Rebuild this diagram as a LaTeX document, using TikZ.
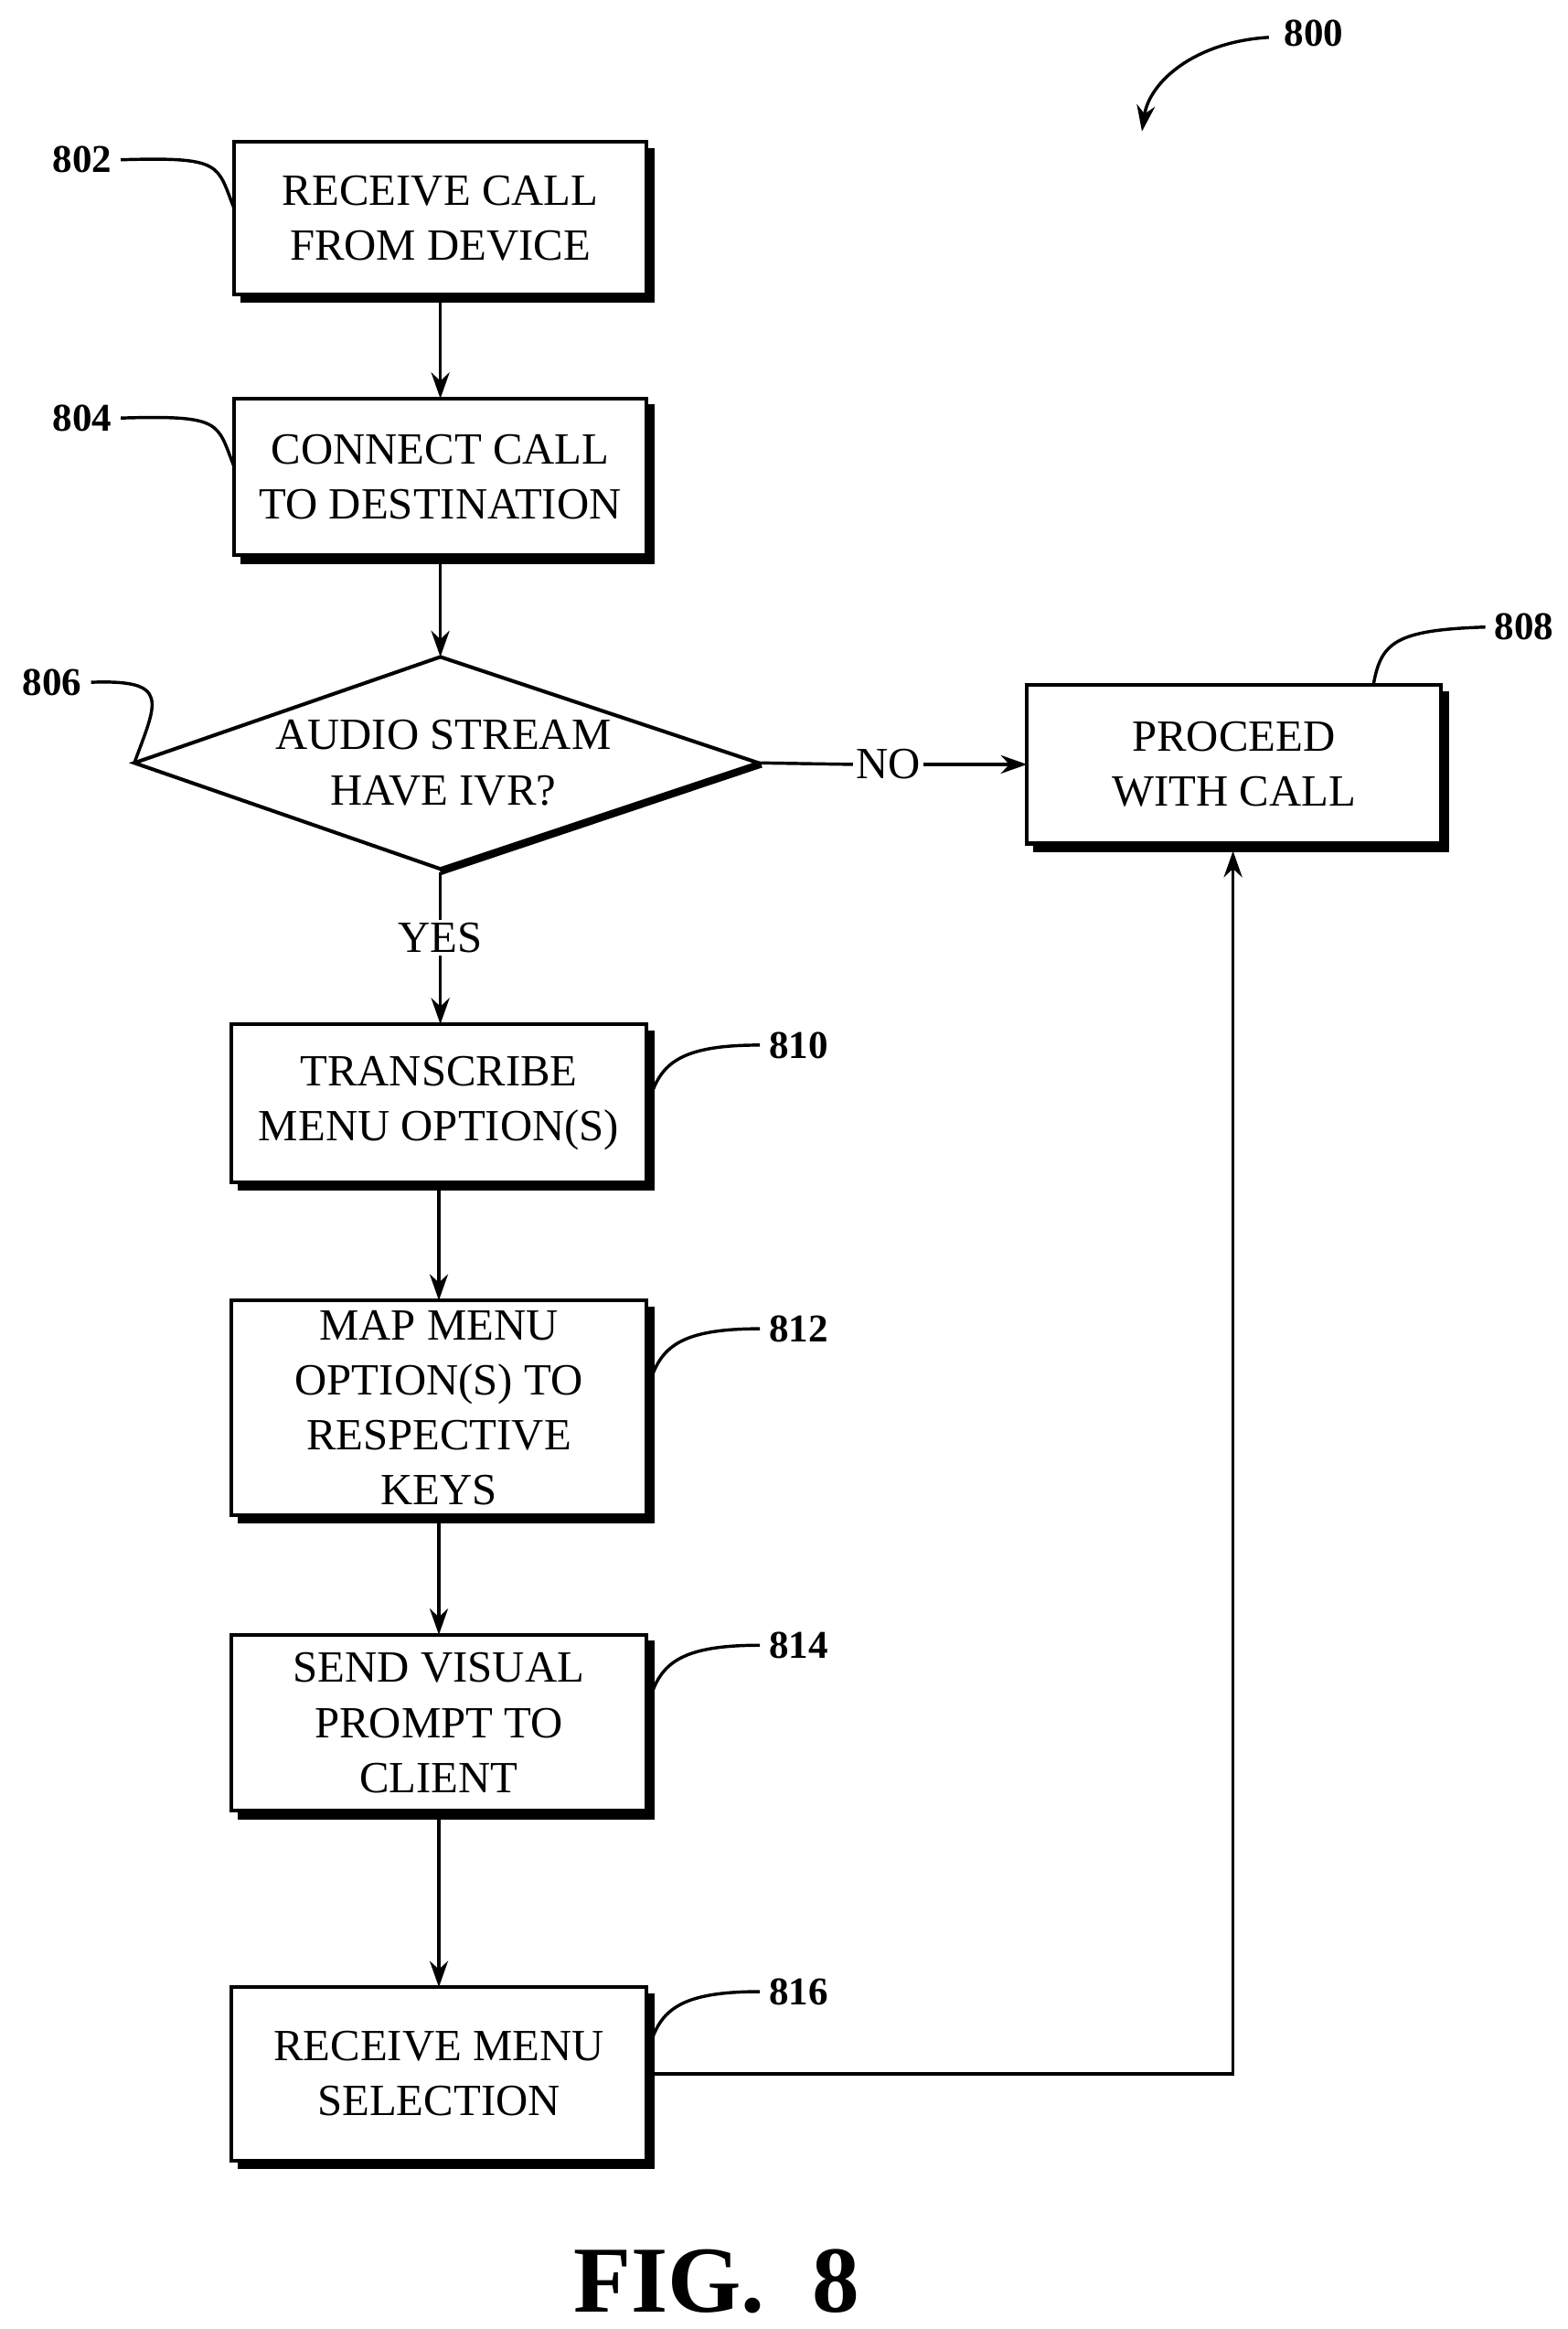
\documentclass[tikz,border=0pt]{standalone}
\usepackage{fontspec}
\setmainfont{Liberation Serif}
\usetikzlibrary{shapes.geometric,arrows.meta}
\begin{document}
\begin{tikzpicture}[x=0.02cm,y=-0.02cm,
  shadow/.style={line width=3pt},
  arr/.style={-{Stealth[length=10pt,width=7pt]},line width=1.2pt},
  lbl/.style={font=\bfseries\fontsize{15}{18}\selectfont},
  lead/.style={line width=1.2pt}]
\useasboundingbox (0,0) rectangle (1050,1560);
\newcommand{\mybox}[6]{% name x1 y1 x2 y2 text
  \draw[line width=1.4pt] (#2,#3) rectangle (#4,#5);
  \draw[shadow] (#4+3,#3+4) -- (#4+3,#5+3) -- (#2+4,#5+3);
  \node[align=center,font=\fontsize{17}{21}\selectfont] (#1) at ({(#2+#4)/2},{(#3+#5)/2}) {#6};
  \coordinate (#1-n) at ({(#2+#4)/2},#3);
  \coordinate (#1-s) at ({(#2+#4)/2},#5+5);
  \coordinate (#1-w) at (#2,{(#3+#5)/2});
  \coordinate (#1-e) at (#4,{(#3+#5)/2});}
\mybox{b802}{157}{95}{433}{197}{RECEIVE CALL\\FROM DEVICE}
\mybox{b804}{157}{267}{433}{372}{CONNECT CALL\\TO DESTINATION}
\mybox{b808}{688}{459}{965}{565}{PROCEED\\WITH CALL}
\mybox{b810}{155}{686}{433}{792}{TRANSCRIBE\\MENU OPTION(S)}
\mybox{b812}{155}{871}{433}{1015}{MAP MENU\\OPTION(S) TO\\RESPECTIVE\\KEYS}
\mybox{b814}{155}{1095}{433}{1213}{SEND VISUAL\\PROMPT TO\\CLIENT}
\mybox{b816}{155}{1331}{433}{1447}{RECEIVE MENU\\SELECTION}
% diamond
\draw[line width=1.4pt] (90,511) -- (295,440) -- (508,511) -- (295,582) -- cycle;
\draw[line width=2.5pt] (295,584) -- (510,512);
\node[align=center,font=\fontsize{17}{21}\selectfont] (d806) at (297,511) {AUDIO STREAM\\HAVE IVR?};
\coordinate (d-n) at (295,440); \coordinate (d-s) at (295,584);
\coordinate (d-e) at (510,511); \coordinate (d-w) at (90,511);
% arrows
\draw[arr] (b802-s) -- (b804-n);
\draw[arr] (b804-s) -- (d-n);
\node[font=\fontsize{17}{21}\selectfont,fill=white,inner sep=1pt] (yes) at (295,628) {YES};
\draw[line width=1.2pt] (d-s) -- (yes.north);
\draw[arr] (yes.south) -- (yes.south |- b810-n);
\node[font=\fontsize{17}{21}\selectfont,fill=white,inner sep=1pt] (no) at (595,512) {NO};
\draw[line width=1.2pt] (d-e) -- (no.west);
\draw[arr] (no.east) -- (no.east |- b808-w) -- (b808-w);
\draw[arr] (b810-s) -- (b812-n);
\draw[arr] (b812-s) -- (b814-n);
\draw[arr] (b814-s) -- (b816-n);
\coordinate (c1) at (826,1389);
\draw[arr] (b816-e) -- (c1) -- (826,570);
% labels
\node[lbl] (l800) at (880,22) {800};
\draw[arr] (850,25) .. controls (800,28) and (770,55) .. (765,88);
\node[lbl] (l802) at (55,107) {802};
\draw[lead] (l802.east) .. controls (150,105) and (145,110) .. (157,140);
\node[lbl] (l804) at (55,280) {804};
\draw[lead] (l804.east) .. controls (150,278) and (145,283) .. (157,313);
\node[lbl] (l806) at (35,457) {806};
\draw[lead] (l806.east) .. controls (115,455) and (105,470) .. (d-w);
\node[lbl] (l808) at (1021,420) {808};
\draw[lead] (l808.west) .. controls (935,422) and (925,430) .. (920,459);
\node[lbl] (l810) at (535,700) {810};
\draw[lead] (l810.west) .. controls (450,700) and (440,715) .. (433,745);
\node[lbl] (l812) at (535,890) {812};
\draw[lead] (l812.west) .. controls (450,890) and (440,905) .. (433,935);
\node[lbl] (l814) at (535,1102) {814};
\draw[lead] (l814.west) .. controls (450,1102) and (440,1117) .. (433,1147);
\node[lbl] (l816) at (535,1334) {816};
\draw[lead] (l816.west) .. controls (450,1334) and (440,1349) .. (433,1379);
\node[font=\bfseries\fontsize{36}{42}\selectfont] (fig) at (480,1528) {FIG.\ \ 8};
\end{tikzpicture}
\end{document}
